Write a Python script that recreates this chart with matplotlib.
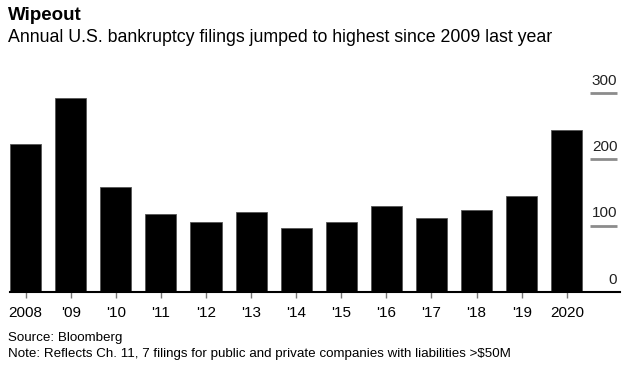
import matplotlib.pyplot as plt

plt.rcParams['font.family'] = ['Liberation Sans', 'DejaVu Sans']

# Annual U.S. bankruptcy filings
years = ['2008', "'09", "'10", "'11", "'12", "'13", "'14", "'15", "'16", "'17", "'18", "'19", '2020']
filings = [224, 292, 158, 117, 105, 120, 96, 105, 130, 111, 123, 145, 244]
y_ticks = [0, 100, 200, 300]

fig = plt.figure(figsize=(6.3, 3.71), dpi=100)
ax = fig.add_axes([10 / 630, 79 / 371, 610 / 630, 222 / 371])

x = list(range(len(years)))
ax.bar(x, filings, width=0.69, color='black', edgecolor='#555555', linewidth=0.6)

ax.set_xlim(-0.345, 13.18)
ax.set_ylim(0, 335)

# short gridlines on the right with labels above them
for v in y_ticks:
    if v > 0:
        ax.hlines(v, 12.52, 13.12, color='#8c8c8c', linewidth=2)
    ax.text(13.12, v + 8, str(v), ha='right', va='bottom', fontsize=11, color='#222222')

ax.set_xticks(x)
ax.set_xticklabels(years, fontsize=11)
ax.tick_params(axis='x', length=4, width=1, color='#777777', pad=6)
ax.set_yticks([])

for s in ['top', 'left', 'right']:
    ax.spines[s].set_visible(False)
ax.spines['bottom'].set_linewidth(1.5)

fig.text(8 / 630, 1 - 16 / 371, 'Wipeout', fontsize=13.5, fontweight='bold', va='center')
fig.text(8 / 630, 1 - 37 / 371, 'Annual U.S. bankruptcy filings jumped to highest since 2009 last year',
         fontsize=12.75, va='center')
fig.text(8 / 630, 1 - 338 / 371, 'Source: Bloomberg', fontsize=9.6, va='center')
fig.text(8 / 630, 1 - 354 / 371,
         'Note: Reflects Ch. 11, 7 filings for public and private companies with liabilities >$50M',
         fontsize=9.6, va='center')

fig.savefig('out.png', dpi=100)
